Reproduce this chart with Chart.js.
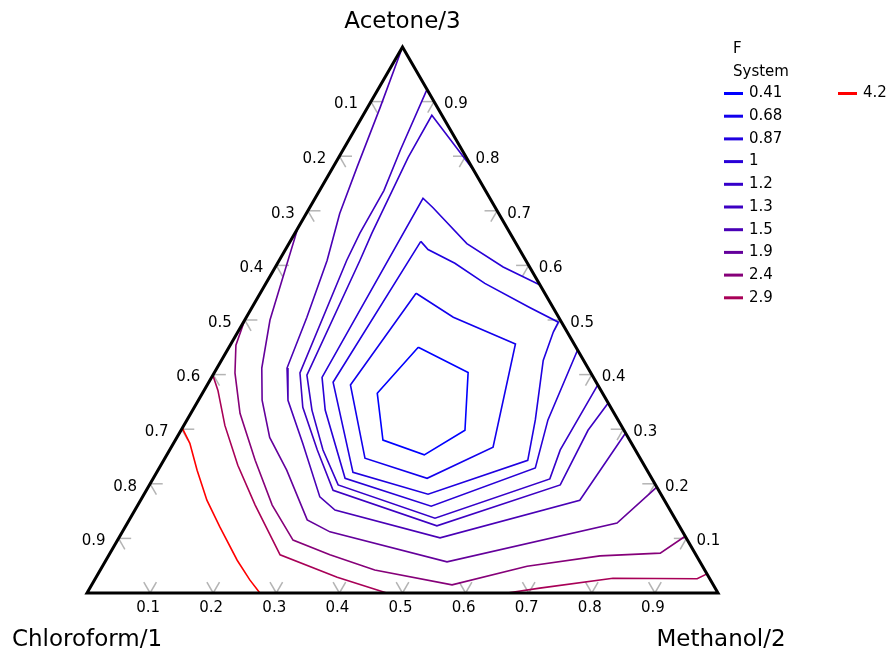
<!DOCTYPE html>
<html>
<head>
<meta charset="utf-8">
<script src="https://cdn.jsdelivr.net/npm/chart.js@4/dist/chart.umd.min.js"></script>
<style>
html,body{margin:0;padding:0;background:#ffffff;}
#c{display:block;}
</style>
</head>
<body>
<canvas id="c" width="889" height="654"></canvas>
<script>
// ---- data ----
const legendTitle = ['F', 'System'];
const levels = [0.41, 0.68, 0.87, 1, 1.2, 1.3, 1.5, 1.9, 2.4, 2.9, 4.2];
const levelLabels = ['0.41', '0.68', '0.87', '1', '1.2', '1.3', '1.5', '1.9', '2.4', '2.9', '4.2'];
const vertexNames = ['Chloroform/1', 'Methanol/2', 'Acetone/3'];
const tickValues = [0.1, 0.2, 0.3, 0.4, 0.5, 0.6, 0.7, 0.8, 0.9];
const tickLabels = ['0.1', '0.2', '0.3', '0.4', '0.5', '0.6', '0.7', '0.8', '0.9'];

// contour vertices as [methanol, acetone] fractions (chloroform = 1 - both)
const c041 = [[0.300,0.450],[0.402,0.404],[0.450,0.298],[0.408,0.253],[0.329,0.280],[0.277,0.366],[0.300,0.450]];
const c068 = [[0.247,0.549],[0.328,0.505],[0.451,0.456],[0.510,0.267],[0.434,0.210],[0.317,0.247],[0.227,0.381],[0.247,0.549]];
const c087 = [[0.207,0.644],[0.226,0.629],[0.281,0.604],[0.347,0.567],[0.440,0.523],[0.499,0.496],[0.500,0.478],[0.510,0.426],[0.552,0.317],[0.577,0.243],[0.450,0.181],[0.311,0.221],[0.197,0.386],[0.207,0.644]];
const c100 = [[0.436,0.564],[0.361,0.597],[0.282,0.640],[0.195,0.706],[0.171,0.723],[0.175,0.395],[0.210,0.335],[0.304,0.210],[0.466,0.159],[0.596,0.229],[0.572,0.317],[0.555,0.445]];
const c120 = [[0.226,0.774],[0.109,0.875],[0.110,0.798],[0.122,0.659],[0.128,0.609],[0.149,0.399],[0.189,0.335],[0.243,0.262],[0.299,0.198],[0.483,0.137],[0.629,0.209],[0.619,0.262],[0.619,0.381]];
const c130 = [[0.078,0.920],[0.091,0.811],[0.102,0.737],[0.103,0.659],[0.107,0.609],[0.136,0.403],[0.172,0.340],[0.234,0.262],[0.296,0.188],[0.493,0.123],[0.651,0.198],[0.645,0.298],[0.652,0.348]];
const c150 = [[0,1],[0.020,0.889],[0.038,0.780],[0.053,0.695],[0.076,0.609],[0.096,0.505],[0.111,0.412],[0.142,0.353],[0.205,0.274],[0.281,0.176],[0.317,0.152],[0.509,0.101],[0.696,0.170],[0.707,0.293]];
const c190 = [[0,0.668],[0.014,0.609],[0.040,0.500],[0.071,0.412],[0.101,0.353],[0.147,0.285],[0.204,0.225],[0.282,0.134],[0.329,0.112],[0.542,0.057],[0.776,0.128],[0.806,0.194]];
const c240 = [[0,0.500],[0.009,0.454],[0.033,0.403],[0.078,0.329],[0.145,0.243],[0.213,0.161],[0.278,0.097],[0.350,0.070],[0.435,0.042],[0.571,0.015],[0.673,0.049],[0.779,0.068],[0.872,0.073],[0.896,0.104]];
const c290a = [[0,0.399],[0.022,0.371],[0.065,0.307],[0.122,0.234],[0.186,0.161],[0.271,0.070],[0.382,0.029],[0.475,0]];
const c290b = [[0.666,0],[0.713,0.009],[0.820,0.027],[0.954,0.026],[0.965,0.035]];
const c420 = [[0,0.302],[0.026,0.274],[0.062,0.225],[0.105,0.170],[0.150,0.121],[0.208,0.060],[0.246,0.024],[0.274,0]];

const contourSets = [
  [0.41, c041], [0.68, c068], [0.87, c087], [1, c100], [1.2, c120], [1.3, c130],
  [1.5, c150], [1.9, c190], [2.4, c240], [2.9, c290a], [2.9, c290b], [4.2, c420]
];
const triangle = [[0,0],[1,0],[0,1],[0,0],[1,0]];

// ---- helpers ----
const H = Math.sqrt(3) / 2;
const toXY = p => ({ x: p[0] + p[1] / 2, y: p[1] * H });
const vMin = levels[0], vMax = levels[levels.length - 1];
function levelColor(v) {
  const t = (v - vMin) / (vMax - vMin);
  return 'rgb(' + Math.round(255 * t) + ',0,' + Math.round(255 * (1 - t)) + ')';
}

const datasets = [{
  label: 'triangle',
  data: triangle.map(toXY),
  showLine: true,
  borderColor: '#000000',
  borderWidth: 3,
  borderJoinStyle: 'miter',
  pointRadius: 0,
  clip: false
}];
contourSets.forEach(([lv, pts]) => {
  datasets.push({
    label: String(lv),
    data: pts.map(toXY),
    showLine: true,
    borderColor: levelColor(lv),
    borderWidth: 1.6,
    pointRadius: 0,
    clip: false
  });
});

const FONT = '"DejaVu Sans", Verdana, sans-serif';
const L = 0.02;

const decor = {
  id: 'decor',
  beforeDatasetsDraw(chart) {
    const { ctx, scales: { x, y } } = chart;
    const P = (m, a) => [x.getPixelForValue(m + a / 2), y.getPixelForValue(a * H)];
    const seg = (p, q) => { ctx.beginPath(); ctx.moveTo(p[0], p[1]); ctx.lineTo(q[0], q[1]); ctx.stroke(); };
    ctx.save();
    ctx.strokeStyle = '#b4b4b4';
    ctx.lineWidth = 1.5;
    tickValues.forEach(v => {
      // bottom edge: methanol
      seg(P(v, 0), P(v, L)); seg(P(v, 0), P(v - L, L));
      // left edge: chloroform
      seg(P(0, 1 - v), P(L, 1 - v)); seg(P(0, 1 - v), P(L, 1 - v - L));
      // right edge: acetone
      seg(P(1 - v, v), P(1 - v - L, v)); seg(P(1 - v, v), P(1 - v, v - L));
    });
    ctx.restore();
  },
  afterDraw(chart) {
    const { ctx, scales: { x, y } } = chart;
    const P = (m, a) => [x.getPixelForValue(m + a / 2), y.getPixelForValue(a * H)];
    ctx.save();
    ctx.fillStyle = '#000000';
    ctx.font = '15px ' + FONT;
    ctx.textBaseline = 'middle';
    tickValues.forEach((v, i) => {
      const t = tickLabels[i];
      let p = P(v, 0);
      ctx.textAlign = 'center';
      ctx.fillText(t, p[0] - 2, p[1] + 15);
      p = P(0, 1 - v);
      ctx.textAlign = 'right';
      ctx.fillText(t, p[0] - 13, p[1] + 3);
      p = P(1 - v, v);
      ctx.textAlign = 'left';
      ctx.fillText(t, p[0] + 10, p[1] + 3);
    });
    // vertex names
    ctx.font = '23px ' + FONT;
    ctx.textAlign = 'center';
    let p = P(0, 0);
    ctx.fillText(vertexNames[0], p[0], p[1] + 47);
    p = P(1, 0);
    ctx.fillText(vertexNames[1], p[0] + 3, p[1] + 47);
    p = P(0, 1);
    ctx.fillText(vertexNames[2], p[0], p[1] - 25);

    // legend
    ctx.font = '15px ' + FONT;
    ctx.textAlign = 'left';
    ctx.fillText(legendTitle[0], 733, 49);
    ctx.fillText(legendTitle[1], 733, 72);
    const rowsPerCol = 10;
    levels.forEach((lv, i) => {
      const col = Math.floor(i / rowsPerCol), row = i % rowsPerCol;
      const x0 = 724 + col * 114;
      const yy = 93.5 + row * 22.7;
      ctx.strokeStyle = levelColor(lv);
      ctx.lineWidth = 3;
      ctx.beginPath(); ctx.moveTo(x0, yy); ctx.lineTo(x0 + 19, yy); ctx.stroke();
      ctx.fillStyle = '#000000';
      ctx.fillText(levelLabels[i], x0 + 25, yy);
    });
    ctx.restore();
  }
};

new Chart(document.getElementById('c'), {
  type: 'scatter',
  data: { datasets },
  options: {
    responsive: false,
    animation: false,
    layout: { padding: { left: 87, top: 47, right: 171, bottom: 61 } },
    scales: {
      x: { type: 'linear', min: 0, max: 1, display: false },
      y: { type: 'linear', min: 0, max: H, display: false }
    },
    plugins: { legend: { display: false }, tooltip: { enabled: false } },
    elements: { point: { radius: 0 }, line: { tension: 0 } }
  },
  plugins: [decor]
});
</script>
</body>
</html>
